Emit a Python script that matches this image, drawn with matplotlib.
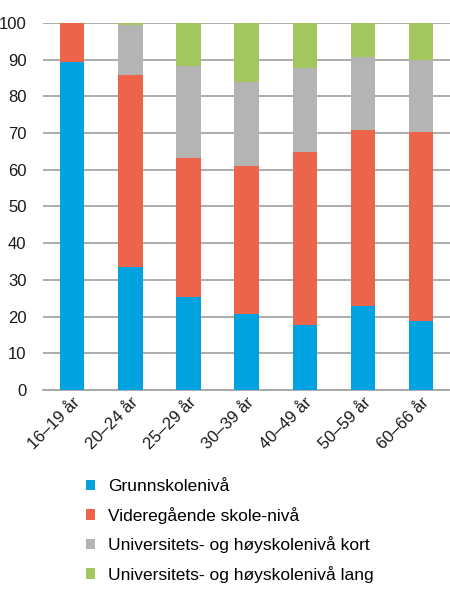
import matplotlib.pyplot as plt
from matplotlib.patches import Patch
import numpy as np

plt.rcParams['font.family'] = ['Liberation Sans', 'DejaVu Sans']

aldersgrupper = ['16–19 år', '20–24 år', '25–29 år', '30–39 år', '40–49 år', '50–59 år', '60–66 år']
grunnskole = [89.4, 33.5, 25.3, 20.6, 17.6, 23.0, 18.7]
videregaende = [10.6, 52.2, 37.9, 40.3, 47.3, 47.9, 51.6]
uni_kort = [0.0, 13.8, 24.9, 23.1, 22.7, 19.7, 19.7]
uni_lang = [0.0, 0.5, 11.9, 16.0, 12.4, 9.4, 10.0]

serier = ['Grunnskolenivå', 'Videregående skole-nivå',
          'Universitets- og høyskolenivå kort', 'Universitets- og høyskolenivå lang']
farger = ['#00A3E0', '#EC6449', '#B4B4B4', '#A3C75E']

fig = plt.figure(figsize=(4.5, 6), dpi=100)
ax = fig.add_axes([0.096, 0.35, 0.904, 0.612])

x = np.arange(len(aldersgrupper))
bunn = np.zeros(len(aldersgrupper))
for verdier, farge in zip([grunnskole, videregaende, uni_kort, uni_lang], farger):
    ax.bar(x, verdier, width=0.42, bottom=bunn, color=farge, zorder=3)
    bunn += np.array(verdier)

ax.set_xlim(-0.5, 6.5)
ax.set_ylim(0, 100)
ax.set_yticks(range(0, 101, 10))
ax.yaxis.grid(True, color='#A6A6A6', linewidth=1.3, zorder=0)
ax.set_axisbelow(True)
for s in ['top', 'right', 'left']:
    ax.spines[s].set_visible(False)
ax.spines['bottom'].set_color('#A6A6A6')
ax.spines['bottom'].set_linewidth(1.3)
ax.tick_params(axis='both', length=0, labelsize=12, colors='#1a1a1a')
ax.tick_params(axis='y', pad=12)
ax.set_xticks(x)
ax.set_xticklabels(aldersgrupper, rotation=45, ha='right', rotation_mode='anchor')

handles = [Patch(facecolor=f, label=l) for f, l in zip(farger, serier)]
fig.legend(handles=handles, loc='upper left', bbox_to_anchor=(0.175, 0.213),
           frameon=False, fontsize=12.5, handlelength=0.55, handleheight=0.55,
           handletextpad=0.75, labelspacing=0.72, borderaxespad=0)

fig.savefig('out.png', dpi=100)
